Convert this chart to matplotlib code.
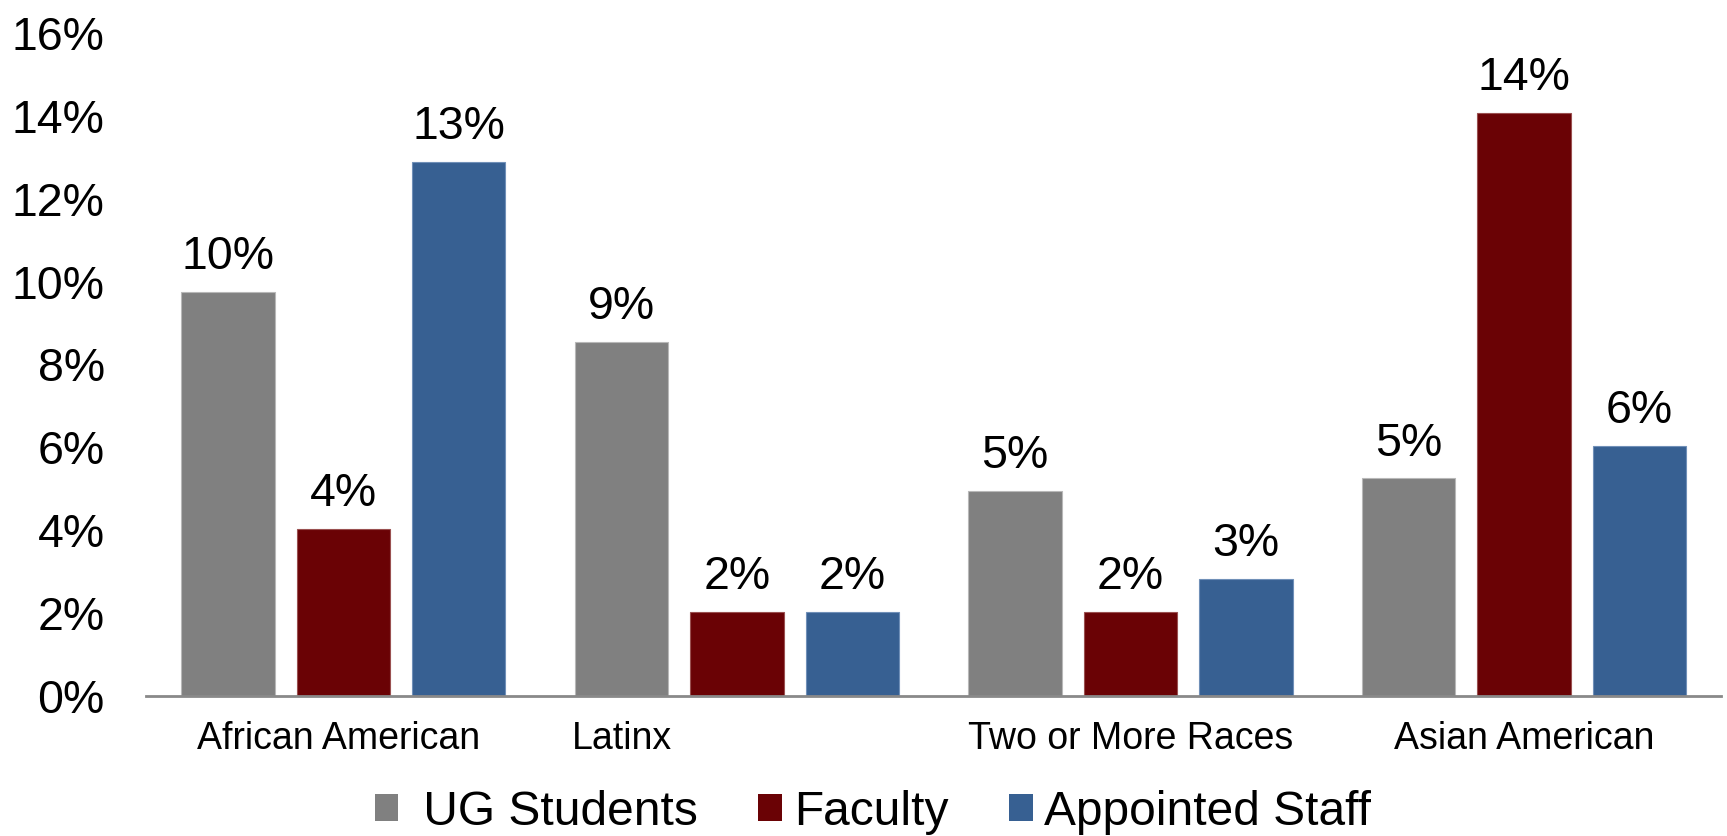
import matplotlib.pyplot as plt
import numpy as np
from matplotlib.patches import Patch
import matplotlib.transforms as mtransforms

plt.rcParams['font.family'] = ['Liberation Sans', 'DejaVu Sans']

# data (percent)
categories = ["African American", "Latinx", "Two or More Races", "Asian American"]
series_names = [" UG Students", "Faculty", "Appointed Staff"]
ug_students = [9.75, 8.55, 4.95, 5.25]
faculty = [4.03, 2.03, 2.03, 14.08]
appointed_staff = [12.88, 2.03, 2.83, 6.04]
ug_labels = ["10%", "9%", "5%", "5%"]
faculty_labels = ["4%", "2%", "2%", "14%"]
staff_labels = ["13%", "2%", "3%", "6%"]
yticks = [0, 2, 4, 6, 8, 10, 12, 14, 16]

colors = ['#808080', '#6a0205', '#376092']
edges = ['#b8b8b8', '#9a5050', '#7090b8']

fig = plt.figure(figsize=(17.27, 8.36), dpi=100)
ax = fig.add_axes([0.0848, 0.1675, 0.9117, 0.793])

x = np.arange(len(categories))
step = 0.2933
width = 0.2374

all_vals = [ug_students, faculty, appointed_staff]
all_labels = [ug_labels, faculty_labels, staff_labels]
for i, (vals, labs) in enumerate(zip(all_vals, all_labels)):
    pos = x + (i - 1) * step
    bars = ax.bar(pos, vals, width, color=colors[i], edgecolor=edges[i], linewidth=0.8, zorder=2)
    for b, lab in zip(bars, labs):
        ax.annotate(lab, (b.get_x() + b.get_width() / 2, b.get_height()),
                    xytext=(0, 16.5), textcoords='offset points',
                    ha='center', va='baseline', fontsize=33.5)

ax.set_xlim(-0.5, len(categories) - 0.5)
ax.set_ylim(0, 16)
ax.set_yticks(yticks)
ax.set_yticklabels([f"{t}%" for t in yticks], fontsize=33.5)
ax.tick_params(axis='y', length=0, pad=30)
ax.set_xticks([])

for s in ['top', 'right', 'left']:
    ax.spines[s].set_visible(False)
ax.spines['bottom'].set_color('#898989')
ax.spines['bottom'].set_linewidth(2)
ax.spines['bottom'].set_zorder(3)

# category labels (Latinx sits under its first bar in the original)
shift = [-0.04, -1, 0, 0]
trans = mtransforms.blended_transform_factory(ax.transData, ax.transAxes)
for xi, name, sh in zip(x, categories, shift):
    ax.text(xi + sh * step, -0.065, name, transform=trans,
            ha='center', va='center', fontsize=27)

handles = [Patch(facecolor=c, edgecolor='none') for c in colors]
fig.legend(handles, series_names, loc='center', bbox_to_anchor=(0.5055, 0.0287),
           ncol=3, frameon=False, fontsize=34.5, handlelength=0.5, handleheight=0.5,
           handletextpad=0.25, columnspacing=1.25, borderpad=0, borderaxespad=0)

fig.savefig('out.png', dpi=100)
